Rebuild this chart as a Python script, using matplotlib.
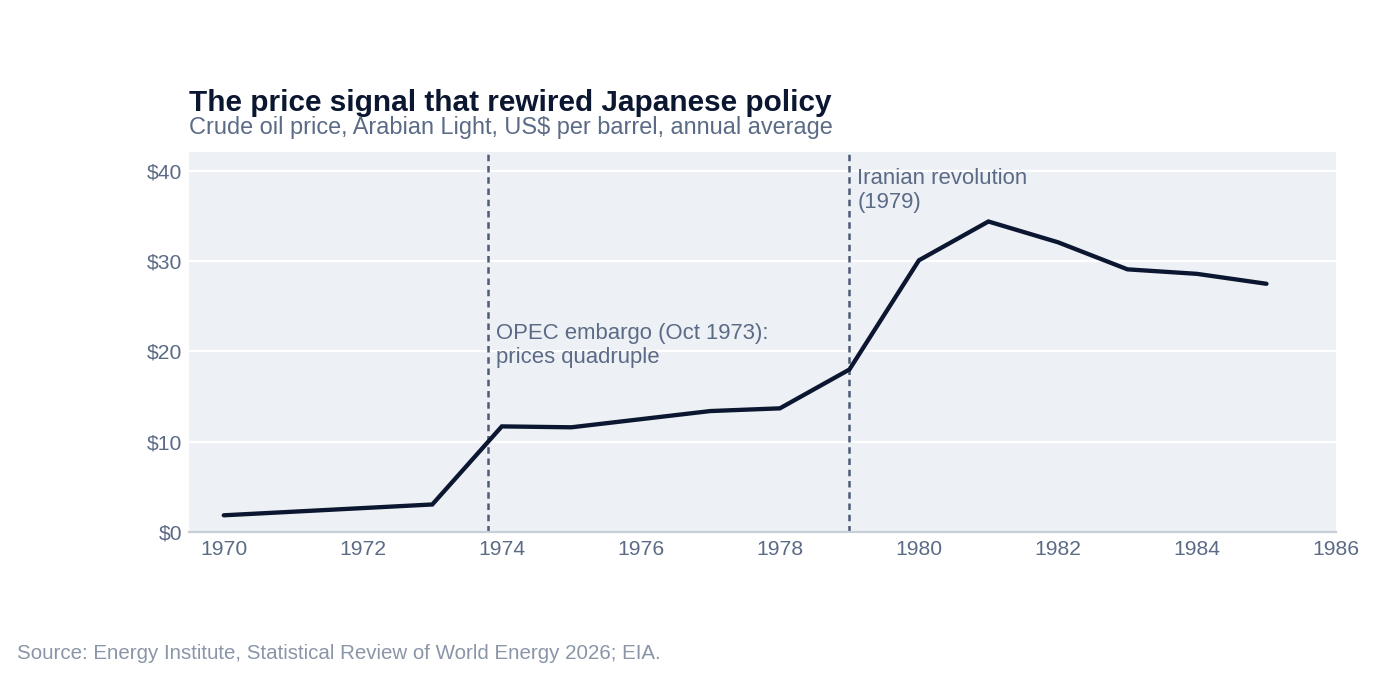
import matplotlib
matplotlib.use("Agg")
import matplotlib.pyplot as plt
from matplotlib.ticker import FuncFormatter

# Data: Arabian Light crude, US$ per barrel, annual average
years = [1970, 1971, 1972, 1973, 1974, 1975, 1976, 1977, 1978, 1979,
         1980, 1981, 1982, 1983, 1984, 1985]
price = [1.85, 2.25, 2.65, 3.05, 11.7, 11.6, 12.5, 13.4, 13.7, 18.0,
         30.1, 34.4, 32.1, 29.1, 28.6, 27.5]

events_x = [1973.8, 1979.0]
events_label = ["OPEC embargo (Oct 1973):\nprices quadruple",
                "Iranian revolution\n(1979)"]
events_text_y = [23.2, 40.3]

xticks = list(range(1970, 1987, 2))
yticks = [0, 10, 20, 30, 40]

navy = "#0b1630"
slate = "#5b6b86"
muted = "#8a95a8"

plt.rcParams["font.family"] = ["Liberation Sans", "DejaVu Sans"]

fig = plt.figure(figsize=(14, 6.77), dpi=100)
ax = fig.add_axes([189/1400, 1 - 532/677, (1336-189)/1400, (532-152)/677])
ax.set_facecolor("#edf0f5")

ax.plot(years, price, color=navy, lw=3.1, solid_capstyle="round",
        solid_joinstyle="miter", zorder=3)

for x, lab, ty in zip(events_x, events_label, events_text_y):
    ax.axvline(x, color="#4f5b75", lw=1.8, ls=(0, (2.6, 1.9)), zorder=2)
    ax.text(x + 0.115, ty, lab, ha="left", va="top", fontsize=15.9,
            color=slate, zorder=4)

ax.set_xlim(1969.5, 1986)
ax.set_ylim(0, 42.1)
ax.set_xticks(xticks)
ax.set_yticks(yticks)
ax.yaxis.set_major_formatter(FuncFormatter(lambda v, p: f"${v:.0f}"))
ax.grid(axis="y", color="white", lw=1.6, zorder=1)
ax.grid(axis="x", visible=False)
for s in ["top", "right", "left"]:
    ax.spines[s].set_visible(False)
ax.spines["bottom"].set_color("#c8ced8")
ax.spines["bottom"].set_linewidth(1.6)
ax.spines["bottom"].set_zorder(5)
ax.tick_params(axis="both", length=0, labelsize=15.2, colors=slate)
ax.tick_params(axis="x", pad=6)
ax.tick_params(axis="y", pad=5)

fig.text(189/1400, 1 - 111/677, "The price signal that rewired Japanese policy",
         fontsize=21.4, fontweight="bold", color=navy, ha="left", va="baseline")
fig.text(189/1400, 1 - 134/677,
         "Crude oil price, Arabian Light, US$ per barrel, annual average",
         fontsize=16.9, color=slate, ha="left", va="baseline")
fig.text(17/1400, 1 - 659/677,
         "Source: Energy Institute, Statistical Review of World Energy 2026; EIA.",
         fontsize=14.75, color=muted, ha="left", va="baseline")

fig.savefig("out.png", dpi=100, facecolor="white")
